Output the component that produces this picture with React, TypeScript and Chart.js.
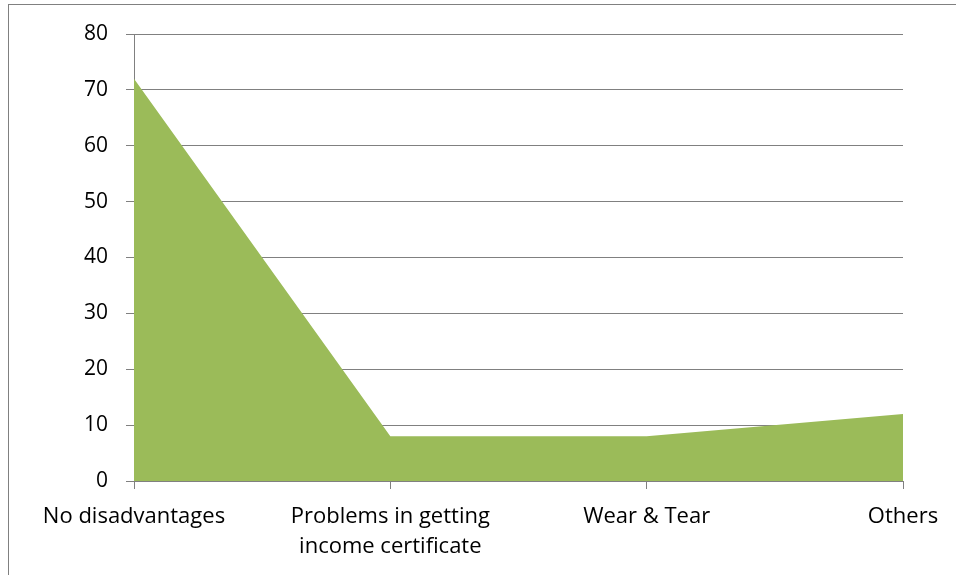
import React, { useEffect, useRef } from "react";
import { Chart, registerables } from "chart.js";

Chart.register(...registerables);

const categories: (string | string[])[] = [
  "No disadvantages",
  ["Problems in getting", "income certificate"],
  "Wear & Tear",
  "Others",
];
const values: number[] = [72, 8, 8, 12];
const yTicks: number[] = [0, 10, 20, 30, 40, 50, 60, 70, 80];

const GRID = "#808080";
const FILL = "#9BBB59";
const FONT = "'Open Sans', 'Liberation Sans', sans-serif";

export default function App() {
  const ref = useRef<HTMLCanvasElement | null>(null);

  useEffect(() => {
    if (!ref.current) return;
    const chart = new Chart(ref.current, {
      type: "line",
      data: {
        labels: categories,
        datasets: [
          {
            data: values,
            fill: "origin",
            backgroundColor: FILL,
            borderWidth: 0,
            borderColor: FILL,
            pointRadius: 0,
            tension: 0,
          },
        ],
      },
      options: {
        responsive: false,
        animation: false,
        layout: { padding: { left: 0, right: 53, top: 34, bottom: 0 } },
        plugins: { legend: { display: false }, tooltip: { enabled: false } },
        scales: {
          x: {
            offset: false,
            grid: {
              display: true,
              drawOnChartArea: false,
              drawTicks: true,
              tickLength: 8,
              color: GRID,
            },
            border: { color: GRID, width: 1 },
            ticks: {
              autoSkip: false,
              maxRotation: 0,
              minRotation: 0,
              padding: 12,
              color: "#000",
              font: { family: FONT, size: 22, lineHeight: 1.4 },
            },
            afterFit: (s: any) => {
              s.height = 94;
            },
          },
          y: {
            min: 0,
            max: 80,
            afterBuildTicks: (s: any) => {
              s.ticks = yTicks.map((v) => ({ value: v }));
            },
            grid: {
              color: GRID,
              tickLength: 8,
              drawTicks: true,
            },
            border: { color: GRID, width: 1 },
            ticks: {
              padding: 18,
              color: "#000",
              font: { family: FONT, size: 21 },
            },
            afterFit: (s: any) => {
              s.width = 134;
            },
          },
        },
      },
    });
    return () => chart.destroy();
  }, []);

  return (
    <div
      style={{
        position: "absolute",
        left: 0,
        top: 0,
        width: 956,
        height: 575,
        overflow: "hidden",
        background: "#fff",
      }}
    >
      <div
        style={{
          position: "absolute",
          left: 8,
          top: 4,
          width: 1100,
          height: 700,
          borderLeft: `1px solid ${GRID}`,
          borderTop: `1px solid ${GRID}`,
        }}
      />
      <canvas
        ref={ref}
        width={956}
        height={575}
        style={{ position: "absolute", left: 0, top: 0, display: "block" }}
      />
    </div>
  );
}
